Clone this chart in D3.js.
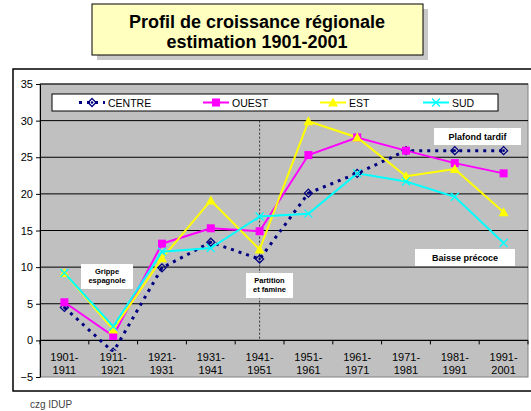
<!DOCTYPE html>
<html>
<head>
<meta charset="utf-8">
<script src="https://cdn.jsdelivr.net/npm/d3@7"></script>
<style>
  body { margin: 0; background: #fff; }
  svg text { font-family: "Liberation Sans", Arial, sans-serif; }
</style>
</head>
<body>
<svg id="chart"></svg>
<script>
const width = 531;
const height = 411;

const periods = ["1901-1911", "1911-1921", "1921-1931", "1931-1941", "1941-1951",
  "1951-1961", "1961-1971", "1971-1981", "1981-1991", "1991-2001"];
const centre = [4.5, -1.6, 9.9, 13.4, 11.1, 20.1, 22.8, 25.9, 25.9, 25.9];
const ouest = [5.2, 0.6, 13.2, 15.3, 14.9, 25.3, 27.7, 25.9, 24.2, 22.8];
const est = [9.2, 1.5, 11.2, 19.1, 12.4, 29.9, 27.7, 22.4, 23.4, 17.5];
const sud = [9.2, 1.9, 12.1, 12.6, 16.9, 17.3, 22.8, 21.7, 19.6, 13.3];
const yTicks = [-5, 0, 5, 10, 15, 20, 25, 30, 35];
const seriesNames = ["CENTRE", "OUEST", "EST", "SUD"];

const series = [
  { name: seriesNames[0], values: centre, color: "#000080", dash: "3,5", width: 3, marker: "diamond" },
  { name: seriesNames[1], values: ouest, color: "#FF00FF", dash: null, width: 2, marker: "square" },
  { name: seriesNames[2], values: est, color: "#FFFF00", dash: null, width: 2, marker: "triangle" },
  { name: seriesNames[3], values: sud, color: "#00FFFF", dash: null, width: 2, marker: "cross" }
];

const plot = { left: 40, right: 528, top: 84, bottom: 377 };

let svg = d3.select("#chart").attr("width", width).attr("height", height);

// title box with shadow
svg.append("rect").attr("x", 97).attr("y", 9).attr("width", 331).attr("height", 51).attr("fill", "#c8c8c8");
svg.append("rect").attr("x", 92).attr("y", 4).attr("width", 331).attr("height", 51)
  .attr("fill", "#FFFFC0").attr("stroke", "#000").attr("stroke-width", 1);
svg.append("text").attr("x", 257).attr("y", 28).attr("text-anchor", "middle")
  .attr("font-size", 18).attr("font-weight", "bold").text("Profil de croissance régionale");
svg.append("text").attr("x", 257).attr("y", 48).attr("text-anchor", "middle")
  .attr("font-size", 18).attr("font-weight", "bold").text("estimation 1901-2001");

// outer chart frame
svg.append("rect").attr("x", 13).attr("y", 69).attr("width", 530).attr("height", 322)
  .attr("fill", "#fff").attr("stroke", "#000").attr("stroke-width", 1.5);

let x = d3.scaleBand().domain(periods).range([plot.left, plot.right]);
let y = d3.scaleLinear().domain([-5, 35]).range([plot.bottom, plot.top]);

svg.append("rect").attr("x", plot.left).attr("y", plot.top)
  .attr("width", plot.right - plot.left).attr("height", plot.bottom - plot.top)
  .attr("fill", "#C0C0C0").attr("stroke", "#808080");

// gridlines
svg.append("g").selectAll("line").data(yTicks.filter(d => d !== -5)).enter().append("line")
  .attr("x1", plot.left).attr("x2", plot.right)
  .attr("y1", d => y(d)).attr("y2", d => y(d))
  .attr("stroke", "#000").attr("stroke-width", 1);

// y axis
let yAxis = svg.append("g").attr("transform", `translate(${plot.left},0)`)
  .call(d3.axisLeft(y).tickValues(yTicks).tickSize(4).tickSizeOuter(0));
yAxis.select(".domain").attr("stroke", "#000");
yAxis.selectAll("text").attr("font-size", 11).attr("fill", "#000")
  .style("font-family", "Liberation Sans, Arial, sans-serif");

// x axis at zero
let xAxis = svg.append("g").attr("transform", `translate(0,${y(0)})`);
xAxis.append("line").attr("x1", plot.left).attr("x2", plot.right).attr("stroke", "#000");
xAxis.selectAll(".tk").data(periods.concat(["end"])).enter().append("line")
  .attr("x1", (d, i) => plot.left + i * x.bandwidth())
  .attr("x2", (d, i) => plot.left + i * x.bandwidth())
  .attr("y1", 0).attr("y2", 4).attr("stroke", "#000");

// vertical dotted line at 1941-1951
svg.append("line")
  .attr("x1", x(periods[4]) + x.bandwidth() / 2).attr("x2", x(periods[4]) + x.bandwidth() / 2)
  .attr("y1", y(30)).attr("y2", y(0))
  .attr("stroke", "#333").attr("stroke-width", 1).attr("stroke-dasharray", "2,2");

function drawMarker(g, type, color, cx, cy) {
  if (type === "diamond") {
    g.append("path").attr("d", `M${cx},${cy - 4}L${cx + 4},${cy}L${cx},${cy + 4}L${cx - 4},${cy}Z`)
      .attr("fill", "none").attr("stroke", color).attr("stroke-width", 1.3);
    g.append("circle").attr("cx", cx).attr("cy", cy).attr("r", 1.3).attr("fill", color);
  } else if (type === "square") {
    g.append("rect").attr("x", cx - 4).attr("y", cy - 4).attr("width", 8).attr("height", 8).attr("fill", color);
  } else if (type === "triangle") {
    g.append("path").attr("d", `M${cx},${cy - 5}L${cx + 5},${cy + 4}L${cx - 5},${cy + 4}Z`).attr("fill", color);
  } else {
    g.append("path").attr("d", `M${cx - 4},${cy - 4}L${cx + 4},${cy + 4}M${cx - 4},${cy + 4}L${cx + 4},${cy - 4}`)
      .attr("stroke", color).attr("stroke-width", 1.3);
  }
}

let line = d3.line().x((d, i) => x(periods[i]) + x.bandwidth() / 2).y(d => y(d));

// annotation boxes
const notes = [
  { lines: ["Grippe", "espagnole"], x: 81, y: 264, w: 52, h: 25 },
  { lines: ["Partition", "et famine"], x: 246, y: 273, w: 47, h: 25 },
  { lines: ["Plafond tardif"], x: 434, y: 128, w: 87, h: 17 },
  { lines: ["Baisse précoce"], x: 415, y: 249, w: 100, h: 17 }
];

series.forEach(s => {
  svg.append("path").datum(s.values).attr("d", line)
    .attr("fill", "none").attr("stroke", s.color).attr("stroke-width", s.width)
    .attr("stroke-dasharray", s.dash);
});

notes.forEach(n => {
  svg.append("rect").attr("x", n.x).attr("y", n.y).attr("width", n.w).attr("height", n.h).attr("fill", "#fff");
  let fs = n.lines.length > 1 ? 7.5 : 9;
  n.lines.forEach((t, i) => {
    svg.append("text").attr("x", n.x + n.w / 2)
      .attr("y", n.y + (n.lines.length > 1 ? 10 + i * 9 : 12))
      .attr("text-anchor", "middle").attr("font-size", fs).attr("font-weight", "bold").text(t);
  });
});

series.forEach(s => {
  let g = svg.append("g");
  s.values.forEach((v, i) => drawMarker(g, s.marker, s.color, x(periods[i]) + x.bandwidth() / 2, y(v)));
});

// category labels drawn over the series
let lbl = svg.append("g").selectAll("text").data(periods).enter().append("text")
  .attr("x", d => x(d) + x.bandwidth() / 2)
  .attr("text-anchor", "middle").attr("font-size", 11)
  .attr("stroke", "#C0C0C0").attr("stroke-width", 4).attr("paint-order", "stroke");
lbl.append("tspan").attr("x", d => x(d) + x.bandwidth() / 2).attr("y", 361).text(d => d.split("-")[0] + "-");
lbl.append("tspan").attr("x", d => x(d) + x.bandwidth() / 2).attr("y", 374).text(d => d.split("-")[1]);

// legend
svg.append("rect").attr("x", 52).attr("y", 94).attr("width", 446).attr("height", 17)
  .attr("fill", "#fff").attr("stroke", "#000").attr("stroke-width", 1);
const legendX = [92, 216, 333, 436];
series.forEach((s, i) => {
  let g = svg.append("g");
  let cx = legendX[i];
  g.append("line").attr("x1", cx - 13).attr("x2", cx + 13).attr("y1", 102.5).attr("y2", 102.5)
    .attr("stroke", s.color).attr("stroke-width", s.width).attr("stroke-dasharray", s.dash);
  drawMarker(g, s.marker, s.color, cx, 102.5);
  g.append("text").attr("x", cx + 16).attr("y", 106.5).attr("font-size", 10.5).text(s.name);
});

svg.append("text").attr("x", 30).attr("y", 408).attr("font-size", 10).attr("fill", "#444").text("czg IDUP");
</script>
</body>
</html>
